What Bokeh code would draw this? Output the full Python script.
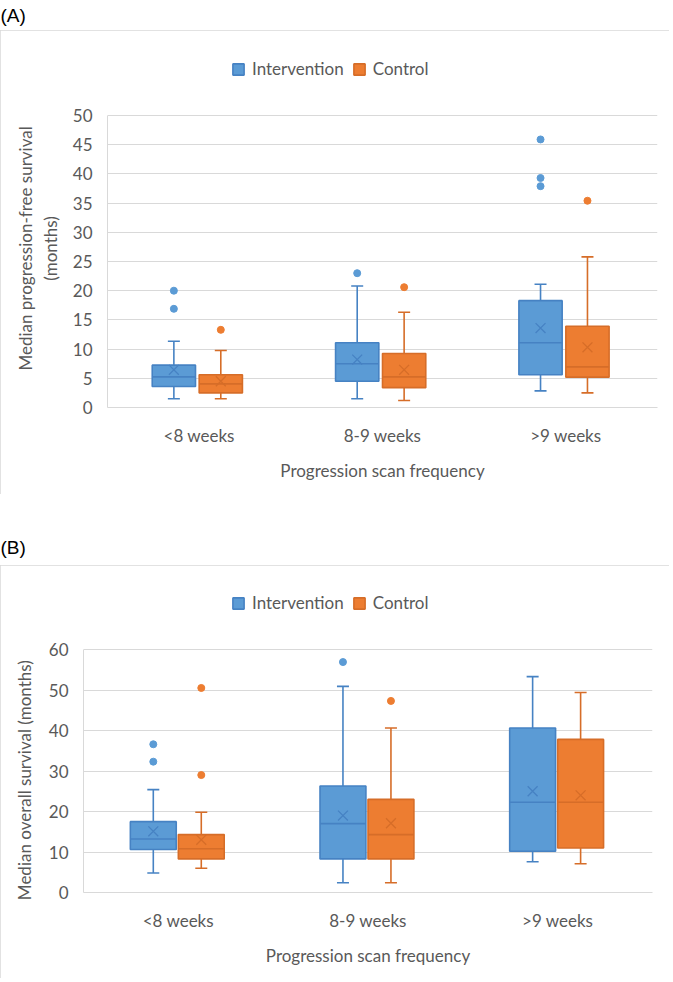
from bokeh.plotting import figure
from bokeh.models import (ColumnDataSource, FactorRange, Range1d, FixedTicker,
                          Legend, LegendItem, Label)
from bokeh.transform import dodge
from bokeh.embed import file_html
from bokeh.resources import INLINE

# ---------------- data ----------------
categories = ["<8 weeks", "8-9 weeks", ">9 weeks"]
series_names = ["Intervention", "Control"]
x_title = "Progression scan frequency"

# (A) median progression-free survival (months)
pfs_int_lower = [1.5, 1.5, 2.85]
pfs_int_q1 = [3.6, 4.5, 5.6]
pfs_int_median = [5.25, 7.5, 11.1]
pfs_int_q3 = [7.25, 11.1, 18.3]
pfs_int_upper = [11.35, 20.8, 21.1]
pfs_int_mean = [6.45, 8.2, 13.6]
pfs_int_out_cat = ["<8 weeks", "<8 weeks", "8-9 weeks", ">9 weeks", ">9 weeks", ">9 weeks"]
pfs_int_out_val = [20.0, 16.9, 23.0, 45.9, 39.3, 37.9]

pfs_ctl_lower = [1.5, 1.2, 2.5]
pfs_ctl_q1 = [2.5, 3.4, 5.2]
pfs_ctl_median = [4.05, 5.25, 6.95]
pfs_ctl_q3 = [5.6, 9.25, 13.9]
pfs_ctl_upper = [9.76, 16.3, 25.8]
pfs_ctl_mean = [4.5, 6.45, 10.3]
pfs_ctl_out_cat = ["<8 weeks", "8-9 weeks", ">9 weeks"]
pfs_ctl_out_val = [13.3, 20.6, 35.4]

pfs_yticks = [0, 5, 10, 15, 20, 25, 30, 35, 40, 45, 50]
pfs_ylabel_lines = ["Median progression-free survival", "(months)"]

# (B) median overall survival (months)
os_int_lower = [4.8, 2.4, 7.6]
os_int_q1 = [10.6, 8.3, 10.2]
os_int_median = [13.2, 17.0, 22.3]
os_int_q3 = [17.5, 26.3, 40.6]
os_int_upper = [25.4, 50.9, 53.3]
os_int_mean = [15.1, 19.0, 25.0]
os_int_out_cat = ["<8 weeks", "<8 weeks", "8-9 weeks"]
os_int_out_val = [36.6, 32.3, 56.9]

os_ctl_lower = [6.0, 2.4, 7.1]
os_ctl_q1 = [8.3, 8.3, 11.0]
os_ctl_median = [10.8, 14.3, 22.3]
os_ctl_q3 = [14.3, 23.0, 37.8]
os_ctl_upper = [19.8, 40.6, 49.4]
os_ctl_mean = [13.0, 17.1, 24.0]
os_ctl_out_cat = ["<8 weeks", "<8 weeks", "8-9 weeks"]
os_ctl_out_val = [50.5, 29.0, 47.3]

os_yticks = [0, 10, 20, 30, 40, 50, 60]
os_ylabel_lines = ["Median overall survival (months)"]

# ---------------- style ----------------
BLUE, BLUE_LINE = "#5B9BD5", "#4682C3"
ORANGE, ORANGE_LINE = "#ED7D31", "#D66D28"
TEXT = "#595959"
GRID = "#D9D9D9"
FONT = "Lato"
FS = "17px"
W = 669


def add_series(p, lower, q1, med, q3, upper, mean, out_cat, out_val,
               offset, width, fill, line):
    src = ColumnDataSource(dict(cat=categories, lower=lower, q1=q1, median=med,
                                q3=q3, upper=upper, mean=mean))
    xc = dodge("cat", offset, range=p.x_range)
    xl = dodge("cat", offset - width / 2, range=p.x_range)
    xr = dodge("cat", offset + width / 2, range=p.x_range)
    p.segment(x0=xc, y0="q3", x1=xc, y1="upper", source=src, line_color=line, line_width=1.6)
    p.segment(x0=xc, y0="q1", x1=xc, y1="lower", source=src, line_color=line, line_width=1.6)
    p.scatter(x=xc, y="upper", marker="dash", size=12, line_color=line, line_width=1.6, source=src)
    p.scatter(x=xc, y="lower", marker="dash", size=12, line_color=line, line_width=1.6, source=src)
    r = p.vbar(x=xc, width=width, bottom="q1", top="q3", source=src,
               fill_color=fill, line_color=line, line_width=1.6)
    p.segment(x0=xl, y0="median", x1=xr, y1="median", source=src, line_color=line, line_width=1.6)
    p.scatter(x=xc, y="mean", marker="x", size=14, line_color=line, line_width=1.3, source=src)
    osrc = ColumnDataSource(dict(cat=out_cat, val=out_val))
    p.scatter(x=dodge("cat", offset, range=p.x_range), y="val", source=osrc, size=7,
              fill_color=fill, line_color=fill)
    return r


def make_tag(tag, height, ypos):
    t = figure(width=W, height=height, output_backend="svg", toolbar_location=None,
               x_range=Range1d(0, 1), y_range=Range1d(0, 1),
               x_axis_type=None, y_axis_type=None,
               min_border_left=0, min_border_right=0, min_border_top=0, min_border_bottom=0,
               outline_line_color=None, background_fill_color="white",
               border_fill_color="white")
    t.grid.visible = False
    t.add_layout(Label(x=0, y=ypos, text=tag, text_font="Liberation Sans",
                       text_font_size="19px", text_color="black",
                       text_baseline="middle", text_align="left"))
    return t


def make_panel(int_data, ctl_data, yticks, ylabel_lines, label_pad, label_standoff,
               height, left, right, frame_top, plot_top, plot_bottom,
               legend_xy, offsets, width):
    # frame spans from frame_top to plot_bottom; the data area (ticks) ends at plot_top
    y_end = yticks[-1] * (plot_bottom - frame_top) / (plot_bottom - plot_top)
    p = figure(width=W, height=height, output_backend="svg", toolbar_location=None,
               x_range=FactorRange(*categories, range_padding=0),
               y_range=Range1d(yticks[0], y_end),
               min_border_left=left, min_border_right=right,
               min_border_top=frame_top, min_border_bottom=height - plot_bottom,
               background_fill_color="white", border_fill_color="white",
               outline_line_color=None,
               styles={"outline": "1px solid #D9D9D9", "outline-offset": "-1px"})
    p.xgrid.grid_line_color = None
    p.ygrid.grid_line_color = GRID
    p.ygrid.grid_line_width = 1
    p.yaxis.ticker = FixedTicker(ticks=yticks)
    p.yaxis.bounds = (yticks[0], yticks[-1])
    for ax in (p.xaxis[0], p.yaxis[0]):
        ax.axis_line_color = GRID
        ax.major_tick_line_color = None
        ax.minor_tick_line_color = None
        ax.major_label_text_font = FONT
        ax.major_label_text_font_size = FS
        ax.major_label_text_color = TEXT
        ax.axis_label_text_font = FONT
        ax.axis_label_text_font_size = FS
        ax.axis_label_text_font_style = "normal"
        ax.axis_label_text_color = TEXT
    # trailing no-break spaces move the rotated label down to sit beside the data area
    p.yaxis.axis_label = "\n".join(l + "\u00a0" * label_pad for l in ylabel_lines)
    p.yaxis.major_label_standoff = 9
    p.yaxis.axis_label_standoff = label_standoff
    p.xaxis.axis_label = x_title
    p.xaxis.major_label_standoff = 11
    p.xaxis.axis_label_standoff = 11

    r1 = add_series(p, *int_data, offsets[0], width, BLUE, BLUE_LINE)
    r2 = add_series(p, *ctl_data, offsets[1], width, ORANGE, ORANGE_LINE)

    legend = Legend(items=[LegendItem(label=series_names[0], renderers=[r1]),
                           LegendItem(label=series_names[1], renderers=[r2])],
                    orientation="horizontal", location=legend_xy,
                    border_line_alpha=0, background_fill_alpha=0,
                    padding=0, margin=0, spacing=8, glyph_width=14, glyph_height=14,
                    label_standoff=7, label_text_font=FONT, label_text_font_size=FS,
                    label_text_color=TEXT)
    p.add_layout(legend)
    return p


tagA = make_tag("(A)", 30, 0.5)
pA = make_panel((pfs_int_lower, pfs_int_q1, pfs_int_median, pfs_int_q3, pfs_int_upper,
                 pfs_int_mean, pfs_int_out_cat, pfs_int_out_val),
                (pfs_ctl_lower, pfs_ctl_q1, pfs_ctl_median, pfs_ctl_q3, pfs_ctl_upper,
                 pfs_ctl_mean, pfs_ctl_out_cat, pfs_ctl_out_val),
                pfs_yticks, pfs_ylabel_lines, 8, 9, 464, 107, 12,
                24, 85, 377, (124, 328), (-0.138, 0.118), 0.236)

tagB = make_tag("(B)", 71, 0.254)
pB = make_panel((os_int_lower, os_int_q1, os_int_median, os_int_q3, os_int_upper,
                 os_int_mean, os_int_out_cat, os_int_out_val),
                (os_ctl_lower, os_ctl_q1, os_ctl_median, os_ctl_q3, os_ctl_upper,
                 os_ctl_mean, os_ctl_out_cat, os_ctl_out_val),
                os_yticks, os_ylabel_lines, 18, 11, 413, 83, 17,
                24, 84, 327, (148, 279), (-0.132, 0.121), 0.242)

open("out.html", "w").write(file_html([tagA, pA, tagB, pB], INLINE))
